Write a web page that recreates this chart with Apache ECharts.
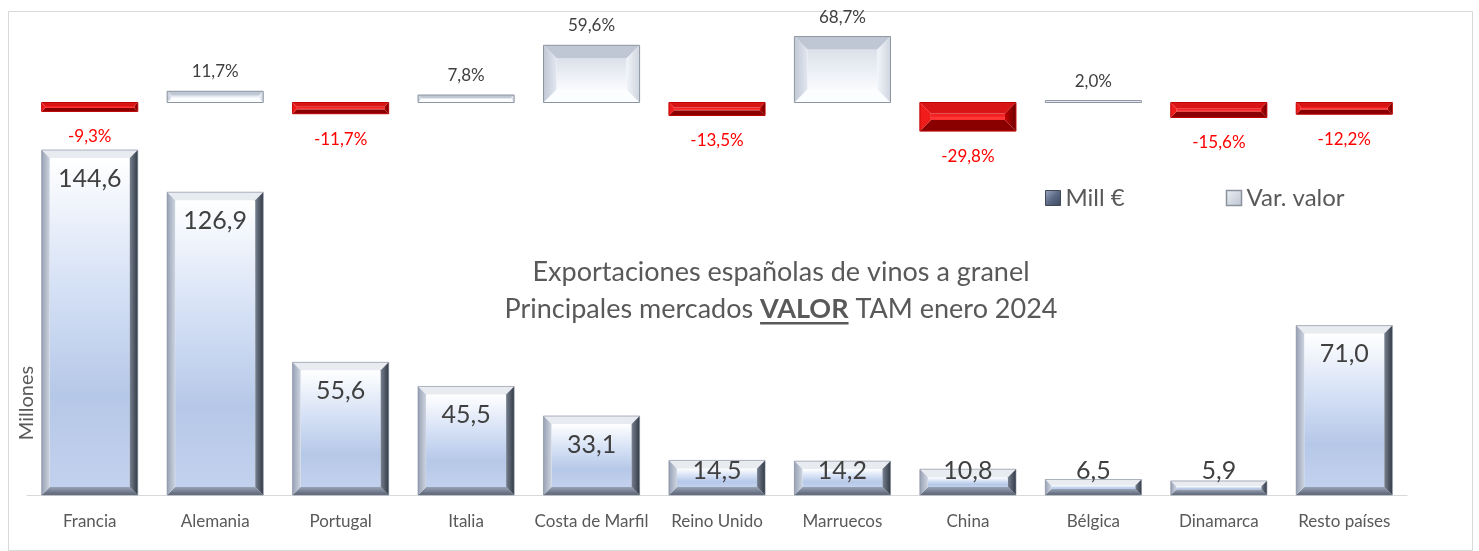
<!DOCTYPE html>
<html>
<head>
<meta charset="utf-8">
<script src="https://cdn.jsdelivr.net/npm/echarts@6/dist/echarts.min.js"></script>
<style>
html,body{margin:0;padding:0;background:#fff;}
#c{width:1479px;height:551px;}
</style>
</head>
<body>
<div id="c"></div>
<script>
const categories = ['Francia','Alemania','Portugal','Italia','Costa de Marfil','Reino Unido','Marruecos','China','Bélgica','Dinamarca','Resto países'];
const millValues = [144.6, 126.9, 55.6, 45.5, 33.1, 14.5, 14.2, 10.8, 6.5, 5.9, 71.0];
const varValues = [-9.3, 11.7, -11.7, 7.8, 59.6, -13.5, 68.7, -29.8, 2.0, -15.6, -12.2];
const seriesNames = ['Mill €', 'Var. valor'];
const titleLine1 = 'Exportaciones españolas de vinos a granel';
const titleParts = ['Principales mercados ', 'VALOR', ' TAM enero 2024'];
const yAxisTitle = 'Millones';

const FONT = 'Lato';
const fmt = v => v.toFixed(1).replace('.', ',');
const lg = (stops, x2, y2) => new echarts.graphic.LinearGradient(0, 0, x2, y2, stops.map(s => ({offset: s[0], color: s[1]})));

function bevelGroup(x, y, w, h, b, pal) {
  const ch = [];
  ch.push({type: 'rect', shape: {x: x + b, y: y + b, width: Math.max(0, w - 2 * b), height: Math.max(0, h - 2 * b)}, style: {fill: pal.face}, silent: true});
  ch.push({type: 'polygon', shape: {points: [[x, y], [x + w, y], [x + w - b, y + b], [x + b, y + b]]}, style: {fill: pal.top}, silent: true});
  ch.push({type: 'polygon', shape: {points: [[x, y + h], [x + w, y + h], [x + w - b, y + h - b], [x + b, y + h - b]]}, style: {fill: pal.bottom}, silent: true});
  ch.push({type: 'polygon', shape: {points: [[x, y], [x + b, y + b], [x + b, y + h - b], [x, y + h]]}, style: {fill: pal.left}, silent: true});
  ch.push({type: 'polygon', shape: {points: [[x + w, y], [x + w - b, y + b], [x + w - b, y + h - b], [x + w, y + h]]}, style: {fill: pal.right}, silent: true});
  ch.push({type: 'rect', shape: {x: x, y: y, width: w, height: h}, style: {fill: 'none', stroke: pal.stroke, lineWidth: 1}, silent: true});
  return ch;
}

const palMill = {
  face: lg([[0, '#ffffff'], [0.4, '#d4e0f5'], [0.72, '#b6c8e8'], [1, '#c2d1ed']], 0, 1),
  top: '#e8ebf0',
  left: lg([[0, '#98a2b5'], [1, '#cdd4e0']], 1, 0),
  right: lg([[0, '#76808f'], [1, '#333a46']], 1, 0),
  bottom: lg([[0, '#98a2b5'], [1, '#5a6374']], 0, 1),
  stroke: 'rgba(120,130,148,0.6)'
};
const palPos = {
  face: lg([[0, '#dbe1ea'], [1, '#fafbfe']], 0, 1),
  top: '#bfc7d4',
  left: lg([[0, '#c0c8d5'], [1, '#e2e7f0']], 1, 0),
  right: lg([[0, '#f0f4fa'], [1, '#cfd5de']], 1, 0),
  bottom: '#fcfdff',
  stroke: '#8d95a2'
};
const palNeg = {
  face: lg([[0, '#ee1e1e'], [0.5, '#f42424'], [0.52, '#ff3a3a'], [1, '#ff3030']], 0, 1),
  top: '#d81414',
  left: '#f01c1c',
  right: lg([[0, '#c00000'], [1, '#6a0000']], 1, 0),
  bottom: '#8a0000',
  stroke: '#c00000'
};

function renderMill(params, api) {
  const idx = api.value(0), v = api.value(1);
  const p0 = api.coord([idx, 0]), p1 = api.coord([idx, v]);
  const band = api.size([1, 0])[0];
  const w = band * 0.766;
  const x = p0[0] - w / 2, y = p1[1], h = p0[1] - p1[1];
  const b = Math.min(8, h / 2.6, w / 2.6);
  const ch = bevelGroup(x, y, w, h, b, palMill);
  const fs = 25;
  const ty = Math.min(y + 16, p0[1] - 12 - fs);
  ch.push({type: 'text', x: p0[0], y: ty, silent: true,
    style: {text: fmt(v), fill: '#404040', fontSize: fs, fontFamily: FONT, align: 'center', verticalAlign: 'top'}});
  return {type: 'group', children: ch};
}

function renderVar(params, api) {
  const idx = api.value(0), v = api.value(1);
  const p0 = api.coord([idx, 0]), p1 = api.coord([idx, v]);
  const band = api.size([1, 0])[0];
  const w = band * 0.766;
  const x = p0[0] - w / 2, y = Math.min(p0[1], p1[1]), h = Math.abs(p0[1] - p1[1]);
  const b = Math.min(13, h / 2.6, w / 2.6);
  const ch = bevelGroup(x, y, w, h, b, v >= 0 ? palPos : palNeg);
  const fs = 17;
  if (v >= 0) {
    ch.push({type: 'text', x: p0[0], y: y - 11, silent: true,
      style: {text: fmt(v) + '%', fill: '#404040', fontSize: fs, fontFamily: FONT, align: 'center', verticalAlign: 'bottom'}});
  } else {
    ch.push({type: 'text', x: p0[0], y: y + h + 17, silent: true,
      style: {text: fmt(v) + '%', fill: '#ff0000', fontSize: fs, fontFamily: FONT, align: 'center', verticalAlign: 'top'}});
  }
  return {type: 'group', children: ch};
}

// measure title parts for underline
const mctx = document.createElement('canvas').getContext('2d');
const TFS = 27;
mctx.font = TFS + 'px ' + FONT; const wA = mctx.measureText(titleParts[0]).width; const wC = mctx.measureText(titleParts[2]).width;
mctx.font = 'bold ' + TFS + 'px ' + FONT; const wB = mctx.measureText(titleParts[1]).width;
const tcx = 781, ty1 = 272, ty2 = 309;
const tx0 = tcx - (wA + wB + wC) / 2;

const chart = echarts.init(document.getElementById('c'), null, {renderer: 'canvas'});
chart.setOption({
  animation: false,
  backgroundColor: '#ffffff',
  grid: [
    {left: 27, right: 72, top: 25.7, bottom: 410.1},
    {left: 27, right: 72, top: 137.1, bottom: 56}
  ],
  xAxis: [
    {type: 'category', gridIndex: 0, data: categories, show: false},
    {type: 'category', gridIndex: 1, data: categories,
      axisLine: {lineStyle: {color: '#d9d9d9', width: 1}}, axisTick: {show: false},
      axisLabel: {color: '#595959', fontSize: 17, fontFamily: FONT, margin: 18, interval: 0}}
  ],
  yAxis: [
    {type: 'value', gridIndex: 0, min: -40, max: 80, show: false},
    {type: 'value', gridIndex: 1, min: 0, max: 150, show: false}
  ],
  legend: {
    left: 1045, top: 186, padding: 0, itemWidth: 15, itemHeight: 15, itemGap: 101, selectedMode: false,
    textStyle: {color: '#595959', fontSize: 24, fontFamily: FONT},
    data: [
      {name: seriesNames[0], icon: 'rect', itemStyle: {color: lg([[0, '#a0abc0'], [0.5, '#5c6a86'], [1, '#3c4658']], 1, 1), borderColor: '#404858', borderWidth: 1}},
      {name: seriesNames[1], icon: 'rect', itemStyle: {color: lg([[0, '#eef1f6'], [1, '#bcc4d0']], 1, 1), borderColor: '#8a929e', borderWidth: 1.5}}
    ]
  },
  graphic: [
    {type: 'rect', left: 6, top: 9, shape: {width: 1464, height: 539}, style: {fill: 'none', stroke: '#d9d9d9', lineWidth: 1}, silent: true, z: -1},
    {type: 'text', x: tcx, y: ty1, style: {text: titleLine1, fill: '#595959', fontSize: TFS, fontFamily: FONT, align: 'center', verticalAlign: 'middle'}, silent: true},
    {type: 'text', x: tx0, y: ty2, style: {text: titleParts[0], fill: '#595959', fontSize: TFS, fontFamily: FONT, align: 'left', verticalAlign: 'middle'}, silent: true},
    {type: 'text', x: tx0 + wA, y: ty2, style: {text: titleParts[1], fill: '#595959', fontSize: TFS, fontWeight: 'bold', fontFamily: FONT, align: 'left', verticalAlign: 'middle'}, silent: true},
    {type: 'text', x: tx0 + wA + wB, y: ty2, style: {text: titleParts[2], fill: '#595959', fontSize: TFS, fontFamily: FONT, align: 'left', verticalAlign: 'middle'}, silent: true},
    {type: 'rect', shape: {x: tx0 + wA, y: ty2 + 13, width: wB, height: 2.5}, style: {fill: '#595959'}, silent: true},
    {type: 'text', x: 27, y: 403, rotation: Math.PI / 2, style: {text: yAxisTitle, fill: '#595959', fontSize: 20, fontFamily: FONT, align: 'center', verticalAlign: 'middle'}, silent: true}
  ],
  series: [
    {name: seriesNames[0], type: 'custom', xAxisIndex: 1, yAxisIndex: 1, renderItem: renderMill,
      itemStyle: {color: '#5c6a86'}, encode: {x: 0, y: 1}, data: millValues.map((v, i) => [i, v]), clip: false},
    {name: seriesNames[1], type: 'custom', xAxisIndex: 0, yAxisIndex: 0, renderItem: renderVar,
      itemStyle: {color: '#c8ced8'}, encode: {x: 0, y: 1}, data: varValues.map((v, i) => [i, v]), clip: false}
  ]
});
</script>
</body>
</html>
